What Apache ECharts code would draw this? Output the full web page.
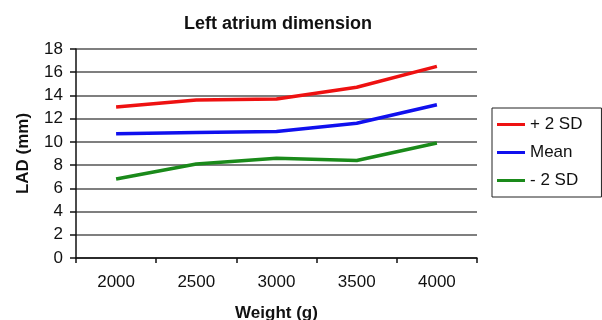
<!DOCTYPE html>
<html>
<head>
<meta charset="utf-8">
<script src="https://cdn.jsdelivr.net/npm/echarts@6/dist/echarts.min.js"></script>
<style>
html,body{margin:0;padding:0;background:#fff;}
#c{width:602px;height:320px;}
</style>
</head>
<body>
<div id="c"></div>
<script>
var categories = ['2000', '2500', '3000', '3500', '4000'];
var plus2SD = [13.0, 13.6, 13.7, 14.7, 16.5];
var meanVals = [10.7, 10.8, 10.9, 11.6, 13.2];
var minus2SD = [6.8, 8.1, 8.6, 8.4, 9.9];
var seriesNames = ['+ 2 SD', 'Mean', '- 2 SD'];
var colors = ['#ee1111', '#1010ee', '#1a8a1a'];

var FONT = "'Liberation Sans', Arial, sans-serif";
var chart = echarts.init(document.getElementById('c'), null, {renderer: 'canvas'});

function mk(name, data, color) {
  return {
    name: name, type: 'line', data: data,
    symbol: 'none', showSymbol: false, smooth: false,
    lineStyle: {color: color, width: 3.5},
    itemStyle: {color: color},
    animation: false
  };
}

chart.setOption({
  animation: false,
  backgroundColor: '#fff',
  textStyle: {fontFamily: FONT},
  title: {
    text: 'Left atrium dimension',
    left: 273, top: 10, textAlign: 'center',
    textStyle: {fontFamily: FONT, fontSize: 18, fontWeight: 'bold', color: '#111'}
  },
  legend: {
    orient: 'vertical',
    left: 492, top: 108,
    padding: [8, 19, 8, 5],
    icon: 'rect',
    itemWidth: 28, itemHeight: 3, itemGap: 11,
    itemTextGap: 5,
    borderColor: '#222', borderWidth: 1,
    textStyle: {fontFamily: FONT, fontSize: 17, color: '#111'},
    data: seriesNames
  },
  grid: {left: 76, right: 125, top: 49, bottom: 62, containLabel: false, outerBoundsMode: 'none'},
  xAxis: {
    type: 'category', data: categories, boundaryGap: true,
    name: 'Weight (g)', nameLocation: 'middle', nameGap: 47,
    nameTextStyle: {fontFamily: FONT, fontSize: 17, fontWeight: 'bold', color: '#111'},
    axisLine: {lineStyle: {color: '#111', width: 1.5}},
    axisTick: {show: true, alignWithLabel: false, length: 5, inside: false, lineStyle: {color: '#111', width: 1.5}},
    axisLabel: {fontFamily: FONT, fontSize: 17, color: '#111', margin: 16},
    splitLine: {show: false}
  },
  yAxis: {
    type: 'value', min: 0, max: 18, interval: 2,
    name: 'LAD (mm)', nameLocation: 'middle', nameGap: 44, nameRotate: 90,
    nameTextStyle: {fontFamily: FONT, fontSize: 17, fontWeight: 'bold', color: '#111'},
    axisLine: {show: true, lineStyle: {color: '#111', width: 1.5}},
    axisTick: {show: true, length: 6, lineStyle: {color: '#111', width: 1.5}},
    axisLabel: {fontFamily: FONT, fontSize: 17, color: '#111', margin: 13},
    splitLine: {show: true, lineStyle: {color: '#555', width: 1.5}}
  },
  series: [
    mk(seriesNames[0], plus2SD, colors[0]),
    mk(seriesNames[1], meanVals, colors[1]),
    mk(seriesNames[2], minus2SD, colors[2])
  ]
});
</script>
</body>
</html>
